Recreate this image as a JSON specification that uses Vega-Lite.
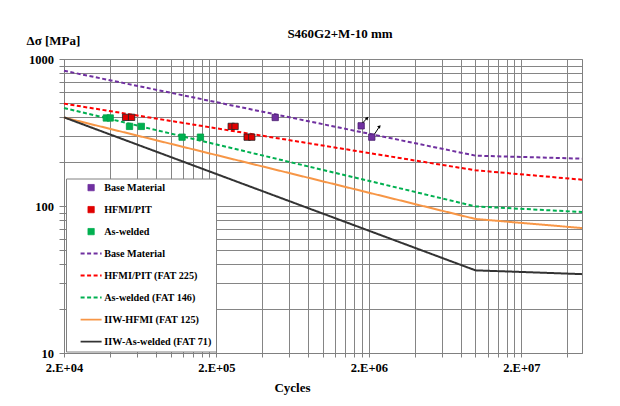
{
  "$schema": "https://vega.github.io/schema/vega-lite/v6.json",
  "width": 518,
  "height": 294,
  "autosize": {"type": "none"},
  "padding": {"left": 64, "top": 59, "right": 38, "bottom": 53},
  "background": "white",
  "config": {
    "font": "Liberation Serif",
    "view": {"stroke": "#808080", "strokeWidth": 1},
    "axis": {
      "labelFont": "Liberation Serif", "labelFontWeight": "bold", "labelFontSize": 12.5, "labelColor": "black",
      "titleFont": "Liberation Serif", "titleFontWeight": "bold", "titleFontSize": 13, "titleColor": "black",
      "gridColor": "#858585", "gridOpacity": 1, "gridWidth": 1,
      "domainColor": "#808080", "tickColor": "#808080"
    },
    "legend": {
      "labelFont": "Liberation Serif", "labelFontWeight": "bold", "labelFontSize": 10.2, "labelColor": "black"
    }
  },
  "title": {
    "text": "S460G2+M-10 mm",
    "font": "Liberation Serif", "fontSize": 13, "fontWeight": "bold", "color": "black",
    "anchor": "middle", "frame": "group", "dx": 17, "dy": 11, "offset": 4
  },
  "datasets": {
    "curves": [
      {"series": "Base Material (curve)", "N": 20000, "S": 832},
      {"series": "Base Material (curve)", "N": 10000000, "S": 220},
      {"series": "Base Material (curve)", "N": 50000000, "S": 210},
      {"series": "HFMI/PIT (FAT 225)", "N": 20000, "S": 497},
      {"series": "HFMI/PIT (FAT 225)", "N": 10000000, "S": 175},
      {"series": "HFMI/PIT (FAT 225)", "N": 50000000, "S": 151},
      {"series": "As-welded (FAT 146)", "N": 20000, "S": 464},
      {"series": "As-welded (FAT 146)", "N": 10000000, "S": 99.4},
      {"series": "As-welded (FAT 146)", "N": 50000000, "S": 91},
      {"series": "IIW-HFMI (FAT 125)", "N": 20000, "S": 400},
      {"series": "IIW-HFMI (FAT 125)", "N": 10000000, "S": 81.6},
      {"series": "IIW-HFMI (FAT 125)", "N": 50000000, "S": 70.8},
      {"series": "IIW-As-welded (FAT 71)", "N": 20000, "S": 401},
      {"series": "IIW-As-welded (FAT 71)", "N": 10000000, "S": 36.5},
      {"series": "IIW-As-welded (FAT 71)", "N": 50000000, "S": 34.4}
    ],
    "tests": [
      {"series": "Base Material", "N": 486000, "S": 400},
      {"series": "Base Material", "N": 1780000, "S": 351},
      {"series": "Base Material", "N": 2090000, "S": 294},
      {"series": "HFMI/PIT", "N": 50700, "S": 401},
      {"series": "HFMI/PIT", "N": 55500, "S": 401},
      {"series": "HFMI/PIT", "N": 250000, "S": 348},
      {"series": "HFMI/PIT", "N": 265000, "S": 348},
      {"series": "HFMI/PIT", "N": 318000, "S": 294},
      {"series": "HFMI/PIT", "N": 341000, "S": 294},
      {"series": "As-welded", "N": 37900, "S": 397},
      {"series": "As-welded", "N": 40200, "S": 397},
      {"series": "As-welded", "N": 53800, "S": 348},
      {"series": "As-welded", "N": 64300, "S": 348},
      {"series": "As-welded", "N": 119000, "S": 294},
      {"series": "As-welded", "N": 157000, "S": 294}
    ],
    "arrows": [
      {"N": 1820000, "S": 367, "N2": 1950000, "S2": 397},
      {"N": 2180000, "S": 309, "N2": 2350000, "S2": 348}
    ]
  },
  "encoding": {
    "x": {
      "field": "N", "type": "quantitative",
      "scale": {"type": "log", "domain": [20000, 50000000], "nice": false},
      "axis": {
        "values": [20000, 40000, 60000, 80000, 100000, 120000, 140000, 160000, 180000, 200000, 400000, 600000, 800000, 1000000, 1200000, 1400000, 1600000, 1800000, 2000000, 4000000, 6000000, 8000000, 10000000, 12000000, 14000000, 16000000, 18000000, 20000000, 40000000],
        "labelExpr": "datum.value == 20000 ? '2.E+04' : datum.value == 200000 ? '2.E+05' : datum.value == 2000000 ? '2.E+06' : datum.value == 20000000 ? '2.E+07' : ''",
        "labelFlush": false, "labelOverlap": false, "tickSize": 4, "labelPadding": 4,
        "title": "Cycles", "titleX": 228, "titleY": 38, "titleBaseline": "alphabetic", "titleAlign": "center"
      }
    },
    "y": {
      "field": "S", "type": "quantitative",
      "scale": {"type": "log", "domain": [10, 1000], "nice": false},
      "axis": {
        "values": [10, 20, 30, 40, 50, 60, 70, 80, 90, 100, 200, 300, 400, 500, 600, 700, 800, 900, 1000],
        "labelExpr": "datum.value == 10 ? '10' : datum.value == 100 ? '100' : datum.value == 1000 ? '1000' : ''",
        "labelOverlap": false, "tickSize": 5, "labelPadding": 5.5,
        "title": "Δσ [MPa]", "titleAngle": 0, "titleAlign": "left", "titleX": -38, "titleY": -15, "titleBaseline": "alphabetic"
      }
    }
  },
  "layer": [
    {
      "data": {"name": "curves"},
      "mark": {"type": "line"},
      "encoding": {
        "color": {
          "field": "series", "type": "nominal",
          "scale": {
            "domain": ["Base Material", "HFMI/PIT", "As-welded", "Base Material (curve)", "HFMI/PIT (FAT 225)", "As-welded (FAT 146)", "IIW-HFMI (FAT 125)", "IIW-As-welded (FAT 71)"],
            "range": ["#7030A0", "#E00000", "#00B050", "#7030A0", "#FF0000", "#00B050", "#F79646", "#333333"]
          },
          "legend": {
            "orient": "none", "legendX": 2, "legendY": 119.5, "title": null,
            "strokeColor": "#808080", "fillColor": "white", "padding": 4,
            "symbolOffset": 16, "symbolSize": 441, "rowPadding": 11, "labelOffset": 8,
            "labelExpr": "datum.label == 'Base Material (curve)' ? 'Base Material' : datum.label",
            "encode": {
              "symbols": {
                "update": {
                  "shape": {"signal": "indexof(['Base Material','HFMI/PIT','As-welded'], datum.value) >= 0 ? 'square' : 'stroke'"},
                  "size": {"signal": "indexof(['Base Material','HFMI/PIT','As-welded'], datum.value) >= 0 ? 40 : 441"},
                  "fill": {"signal": "indexof(['Base Material','HFMI/PIT','As-welded'], datum.value) >= 0 ? scale('color', datum.value) : 'transparent'"},
                  "stroke": {"signal": "datum.value == 'HFMI/PIT' ? '#222222' : scale('color', datum.value)"},
                  "strokeWidth": {"signal": "indexof(['Base Material','HFMI/PIT','As-welded'], datum.value) >= 0 ? 0.8 : (indexof(['IIW-HFMI (FAT 125)','IIW-As-welded (FAT 71)'], datum.value) >= 0 ? 1.6 : 2)"},
                  "strokeDash": {"signal": "indexof(['Base Material (curve)','HFMI/PIT (FAT 225)','As-welded (FAT 146)'], datum.value) >= 0 ? [4, 2.5] : [1, 0]"},
                  "opacity": {"value": 1}
                }
              }
            }
          }
        },
        "strokeDash": {
          "field": "series", "type": "nominal",
          "scale": {
            "domain": ["Base Material (curve)", "HFMI/PIT (FAT 225)", "As-welded (FAT 146)", "IIW-HFMI (FAT 125)", "IIW-As-welded (FAT 71)"],
            "range": [[4, 2.5], [4, 2.5], [4, 2.5], [1, 0], [1, 0]]
          },
          "legend": null
        },
        "strokeWidth": {
          "field": "series", "type": "nominal",
          "scale": {
            "domain": ["Base Material (curve)", "HFMI/PIT (FAT 225)", "As-welded (FAT 146)", "IIW-HFMI (FAT 125)", "IIW-As-welded (FAT 71)"],
            "range": [2, 2, 2, 1.6, 1.6]
          },
          "legend": null
        }
      }
    },
    {
      "data": {"name": "tests"},
      "mark": {"type": "square", "size": 40, "opacity": 1, "filled": true, "strokeWidth": 0.8},
      "encoding": {
        "color": {"field": "series", "type": "nominal"},
        "stroke": {
          "field": "series", "type": "nominal",
          "scale": {"domain": ["Base Material", "HFMI/PIT", "As-welded"], "range": ["#4B1F70", "#222222", "#00A045"]},
          "legend": null
        }
      }
    },
    {
      "data": {"name": "arrows"},
      "mark": {"type": "rule", "color": "black", "strokeWidth": 1},
      "encoding": {
        "x2": {"field": "N2"},
        "y2": {"field": "S2"}
      }
    },
    {
      "data": {"name": "arrows"},
      "mark": {"type": "point", "shape": "triangle-up", "angle": 42, "size": 14, "filled": true, "color": "black", "opacity": 1},
      "encoding": {
        "x": {"field": "N2", "type": "quantitative"},
        "y": {"field": "S2", "type": "quantitative"}
      }
    }
  ]
}
